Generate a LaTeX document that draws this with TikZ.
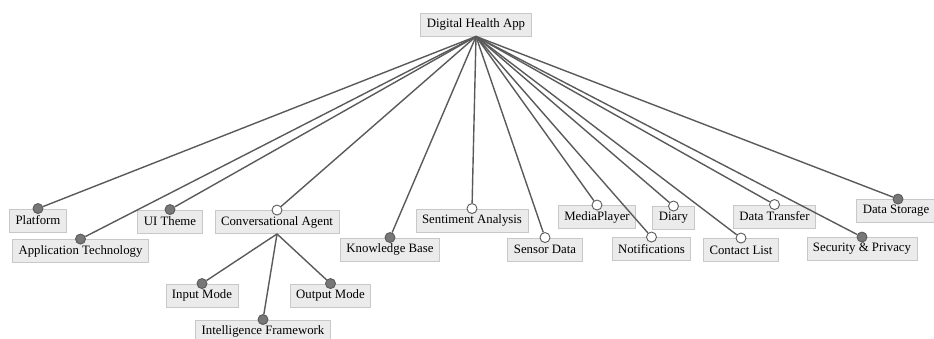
\documentclass[tikz,border=0pt]{standalone}
\usepackage{fontspec}
\setmainfont{Liberation Serif}
\usepackage{tikz}
\usetikzlibrary{positioning}

\definecolor{boxfill}{HTML}{EBEBEB}
\definecolor{boxline}{HTML}{C8C8C8}
\definecolor{linkgray}{HTML}{5A5A5A}
\definecolor{dotgray}{HTML}{777777}

\begin{document}
\begin{tikzpicture}[x=1pt,y=-1pt,font=\rmfamily\fontsize{12.8}{14}\selectfont]
\tikzstyle{feature}=[rectangle,draw=boxline,fill=boxfill,line width=0.9pt,minimum height=23pt,inner xsep=6pt,inner ysep=2pt]
\tikzstyle{mandatory}=[circle,draw=linkgray,fill=dotgray,line width=0.9pt,minimum size=10pt,inner sep=0pt]
\tikzstyle{optional}=[circle,draw=linkgray,fill=white,line width=0.9pt,minimum size=10pt,inner sep=0pt]
\tikzstyle{followed}=[-,draw=linkgray,line width=1.4pt]

\useasboundingbox (0,0) rectangle (934,339);

\node[feature] (root) at (476,24.5) {Digital Health App};

\node[feature] (plat) at (38,220.5) {Platform};
\node[feature] (apptech) at (80.5,251) {Application Technology};
\node[feature] (uitheme) at (170,221.5) {UI Theme};
\node[feature] (agent) at (277,222) {Conversational Agent};
\node[feature] (kbase) at (390,249.5) {Knowledge Base};
\node[feature] (senti) at (472,220.5) {Sentiment Analysis};
\node[feature] (sensor) at (545,249.5) {Sensor Data};
\node[feature] (media) at (597,217) {MediaPlayer};
\node[feature] (notif) at (651.5,249) {Notifications};
\node[feature] (diary) at (673.5,218) {Diary};
\node[feature] (contact) at (741,250) {Contact List};
\node[feature] (transfer) at (774.5,216.5) {Data Transfer};
\node[feature] (secur) at (862,249) {Security \& Privacy};
\node[feature] (storage) at (896,211) {Data Storage};

\node[feature] (input) at (202,295.5) {Input Mode};
\node[feature] (output) at (330.5,295.5) {Output Mode};
\node[feature] (intel) at (263,331.5) {Intelligence Framework};

% variability markers
\node[mandatory] (platdot) at (plat.north) {};
\node[mandatory] (apptechdot) at (apptech.north) {};
\node[mandatory] (uithemedot) at (uitheme.north) {};
\node[optional] (agentdot) at (agent.north) {};
\node[mandatory] (kbasedot) at (kbase.north) {};
\node[optional] (sentidot) at (senti.north) {};
\node[optional] (sensordot) at (sensor.north) {};
\node[optional] (mediadot) at (media.north) {};
\node[optional] (notifdot) at (notif.north) {};
\node[optional] (diarydot) at (diary.north) {};
\node[optional] (contactdot) at (contact.north) {};
\node[optional] (transferdot) at (transfer.north) {};
\node[mandatory] (securdot) at (secur.north) {};
\node[mandatory] (storagedot) at ([xshift=2pt]storage.north) {};
\node[mandatory] (inputdot) at (input.north) {};
\node[mandatory] (outputdot) at (output.north) {};
\node[mandatory] (inteldot) at (intel.north) {};

\foreach \f in {platdot,apptechdot,uithemedot,agentdot,kbasedot,sentidot,sensordot,mediadot,notifdot,diarydot,contactdot,transferdot,securdot,storagedot}
  \draw[followed] (root.south) -- (\f);

\foreach \f in {inputdot,outputdot,inteldot}
  \draw[followed] (agent.south) -- (\f);
\end{tikzpicture}
\end{document}
